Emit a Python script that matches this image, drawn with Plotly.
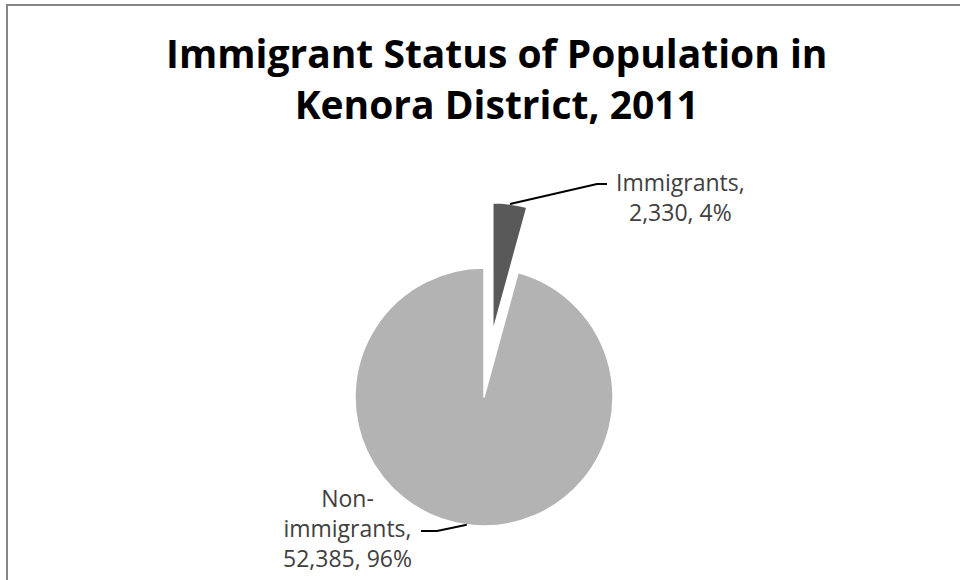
import math
import plotly.graph_objects as go

# ---- data ----
labels = ["Immigrants", "Non-immigrants"]
label_lines = [["Immigrants,"], ["Non-", "immigrants,"]]
values = [2330, 52385]
slice_colors = ["#595959", "#b3b3b3"]
title_lines = ["Immigrant Status of Population in", "Kenora District, 2011"]

# ---- geometry (pixels) ----
W, H = 960, 580
CX, CY, R = 484, 397, 129      # centre and radius of the pie
PULL = 0.51                    # detached slice offset, as a fraction of R
FONT = "'Open Sans', Lato, sans-serif"

total = sum(values)
shares = [v / total for v in values]

# bisector angle (clockwise from 12 o'clock) of each slice
mid_angles = []
acc = 0.0
for s in shares:
    mid_angles.append((acc + s / 2) * 2 * math.pi)
    acc += s

# offset of the exploded "Immigrants" slice along its bisector
dx = PULL * R * math.sin(mid_angles[0])
dy = -PULL * R * math.cos(mid_angles[0])


def px(x, y):
    return x / W, 1 - y / H


def domain(cx, cy, r):
    return dict(x=[(cx - r) / W, (cx + r) / W],
                y=[1 - (cy + r) / H, 1 - (cy - r) / H])


def arc_point(cx, cy, ang):
    return cx + R * math.sin(ang), cy - R * math.cos(ang)


fig = go.Figure()

# main body: the large slice, in place
fig.add_trace(go.Pie(
    labels=labels, values=values, sort=False, direction="clockwise", rotation=0,
    marker=dict(colors=["rgba(0,0,0,0)", slice_colors[1]],
                line=dict(color="white", width=[0, 1.5])),
    textinfo="none", hoverinfo="label+value+percent", showlegend=False,
    domain=domain(CX, CY, R),
))

# exploded slice
fig.add_trace(go.Pie(
    labels=labels, values=values, sort=False, direction="clockwise", rotation=0,
    marker=dict(colors=[slice_colors[0], "rgba(0,0,0,0)"],
                line=dict(color="white", width=[1.5, 0])),
    textinfo="none", hoverinfo="label+value+percent", showlegend=False,
    domain=domain(CX + dx, CY + dy, R),
))

# data labels with leader lines
centres = [(CX + dx, CY + dy), (CX, CY)]
elbows = [((597, 184), (607, 184)), ((437, 531), (421, 531))]
text_pos = [(680, 197), (347, 528)]

shapes = []
annotations = []
for i in range(len(values)):
    sx, sy = arc_point(*centres[i], mid_angles[i])
    (ex, ey), (hx, hy) = elbows[i]
    p0, p1, p2 = px(sx, sy), px(ex, ey), px(hx, hy)
    shapes.append(dict(
        type="path", xref="paper", yref="paper",
        path=f"M {p0[0]},{p0[1]} L {p1[0]},{p1[1]} L {p2[0]},{p2[1]}",
        line=dict(color="black", width=2),
    ))
    pct = round(shares[i] * 100)
    text = "<br>".join(label_lines[i]) + f"<br>{values[i]:,}, {pct}%"
    tx, ty = px(*text_pos[i])
    annotations.append(dict(
        x=tx, y=ty, xref="paper", yref="paper", text=text, showarrow=False,
        xanchor="center", yanchor="middle", align="center",
        font=dict(family=FONT, size=23, color="#404040"),
    ))

# chart title
tx, ty = px(497, 78)
annotations.append(dict(
    x=tx, y=ty, xref="paper", yref="paper", showarrow=False,
    text="<b>" + "<br>".join(title_lines) + "</b>",
    xanchor="center", yanchor="middle", align="center",
    font=dict(family=FONT, size=39, color="black"),
))

# chart-area border (runs off the right and bottom edges)
b0, b1 = px(7, 5), px(975, 600)
shapes.append(dict(type="rect", xref="paper", yref="paper",
                   x0=b0[0], y0=b0[1], x1=b1[0], y1=b1[1],
                   line=dict(color="#868686", width=2)))

fig.update_layout(
    width=W, height=H,
    margin=dict(l=0, r=0, t=0, b=0),
    paper_bgcolor="white", plot_bgcolor="white",
    shapes=shapes, annotations=annotations,
)

fig.write_html("out.html")
